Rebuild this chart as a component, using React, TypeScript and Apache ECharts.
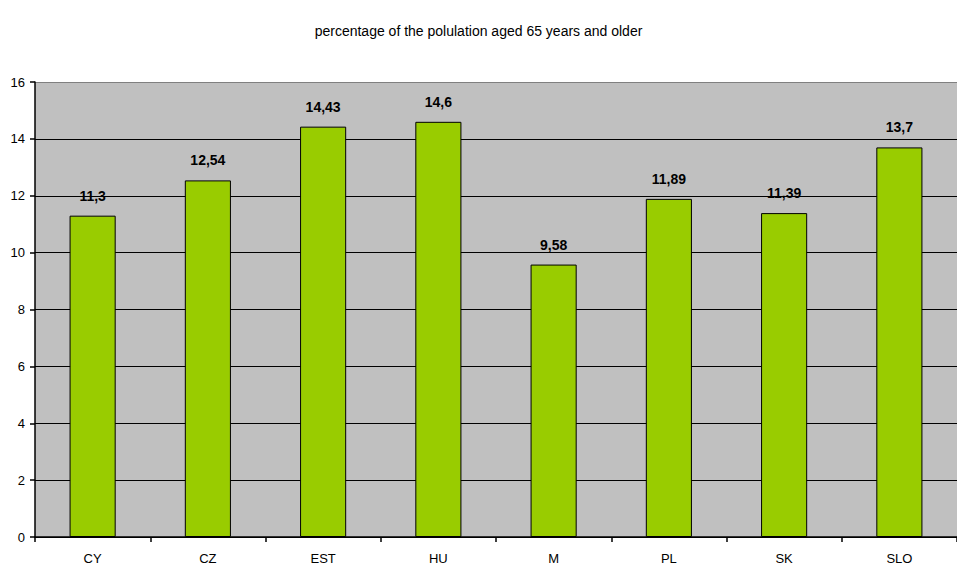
import React, { useEffect, useRef } from "react";
import * as echarts from "echarts";

const countries = ["CY", "CZ", "EST", "HU", "M", "PL", "SK", "SLO"];
const shareAged65 = [11.3, 12.54, 14.43, 14.6, 9.58, 11.89, 11.39, 13.7];
const chartTitle = "percentage of the polulation aged 65 years and older";

const FONT = "'Liberation Sans', Arial, sans-serif";

export default function App() {
  const ref = useRef<HTMLDivElement>(null);

  useEffect(() => {
    if (!ref.current) return;
    const chart = echarts.init(ref.current, null, { renderer: "svg" });
    chart.setOption({
      animation: false,
      backgroundColor: "#ffffff",
      title: {
        text: chartTitle,
        left: "center",
        top: 19,
        textStyle: { fontFamily: FONT, fontSize: 14, fontWeight: "normal", color: "#000" },
      },
      grid: {
        left: 35,
        right: 0,
        top: 82,
        bottom: 29,
        show: true,
        backgroundColor: "#c0c0c0",
        borderWidth: 0,
      },
      xAxis: {
        type: "category",
        data: countries,
        boundaryGap: true,
        axisLine: { lineStyle: { color: "#000", width: 1.5 } },
        axisTick: { show: true, length: 5, lineStyle: { color: "#000", width: 1.5 } },
        axisLabel: { fontFamily: FONT, fontSize: 13, color: "#000", margin: 15 },
      },
      yAxis: {
        type: "value",
        min: 0,
        max: 16,
        interval: 2,
        axisLine: { show: true, lineStyle: { color: "#000", width: 1.5 } },
        axisTick: { show: true, length: 5, lineStyle: { color: "#000", width: 1.5 } },
        axisLabel: { fontFamily: FONT, fontSize: 13, color: "#000", margin: 10 },
        splitLine: {
          show: true,
          lineStyle: {
            color: ["#000", "#000", "#000", "#000", "#000", "#000", "#000", "#000", "#808080"],
            width: 1.2,
          },
        },
      },
      series: [
        {
          type: "bar",
          data: shareAged65,
          barWidth: "40%",
          itemStyle: { color: "#99cc00", borderColor: "#000", borderWidth: 1 },
          label: {
            show: true,
            position: "top",
            distance: 13,
            fontFamily: FONT,
            fontSize: 14,
            fontWeight: "bold",
            color: "#000",
            formatter: (p: any) => String(p.value).replace(".", ","),
          },
        },
      ],
    });
    return () => chart.dispose();
  }, []);

  return (
    <div
      ref={ref}
      style={{ position: "fixed", left: 0, top: 0, width: 957, height: 566 }}
    />
  );
}
